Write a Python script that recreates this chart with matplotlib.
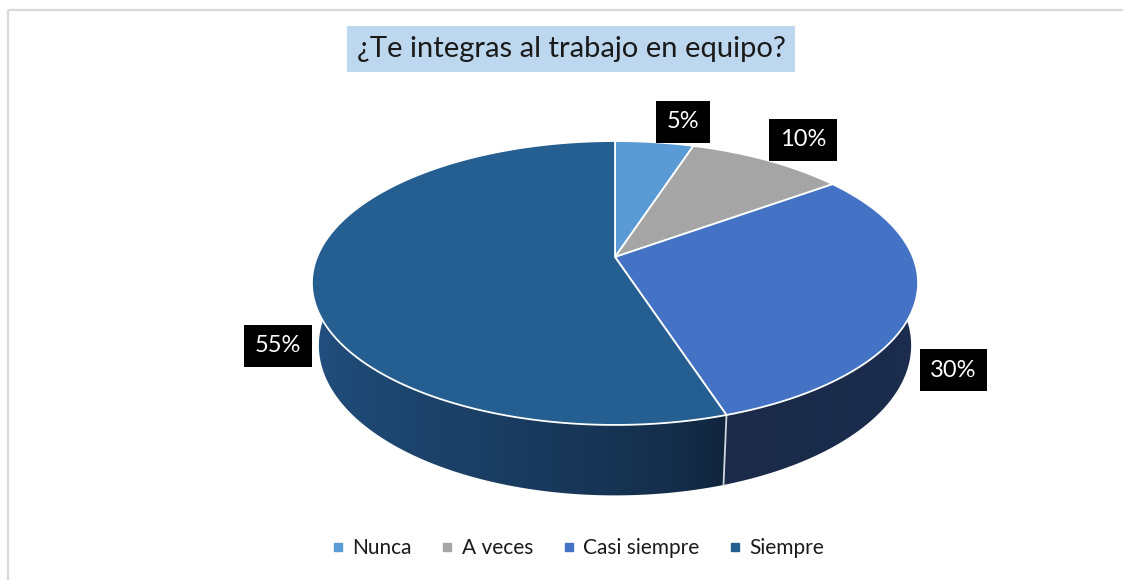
"""3D-style pie chart: ¿Te integras al trabajo en equipo?"""

import matplotlib.pyplot as plt
import numpy as np
from matplotlib.colors import to_rgb
from matplotlib.lines import Line2D
from matplotlib.patches import Polygon

plt.rcParams["font.family"] = ["Lato", "DejaVu Sans"]

# data
title = "¿Te integras al trabajo en equipo?"
categories = ["Nunca", "A veces", "Casi siempre", "Siempre"]
percentages = [5, 10, 30, 55]
value_labels = ["5%", "10%", "30%", "55%"]

# styles
top_colors = ["#5B9BD5", "#A5A5A5", "#4472C4", "#255E91"]
# (color where the visible wall starts, color where it ends), walking clockwise
side_colors = [
    ("#2f5f8e", "#2f5f8e"),
    ("#5a5a5a", "#5a5a5a"),
    ("#1e2f56", "#1a2a48"),
    ("#0f2238", "#245588"),
]

# fake camera for the tilted disk (pixel space)
CX, CY = 615, 257
FOCAL = 1445.0
CAM_DIST = 4.85
ELEV = np.arcsin(0.4605)
WALL = 0.238


def project(theta, height=0.0):
    """Project a rim point (angle clockwise from the back) to pixel coords."""
    x3 = np.sin(theta)
    z3 = np.cos(theta)
    depth = CAM_DIST + z3 * np.cos(ELEV) - height * np.sin(ELEV)
    up = height * np.cos(ELEV) + z3 * np.sin(ELEV)
    return CX + FOCAL * x3 / depth, CY - FOCAL * up / depth


def mix(c0, c1, u):
    a, b = np.array(to_rgb(c0)), np.array(to_rgb(c1))
    return a + (b - a) * u[..., None]


fig = plt.figure(figsize=(11.23, 5.80), dpi=100)
ax = fig.add_axes([0, 0, 1, 1])
ax.set_xlim(0, 1123)
ax.set_ylim(580, 0)
ax.axis("off")

# chart border (top and left only visible)
ax.plot([8, 1123], [10, 10], color="#d9d9d9", lw=1.6, solid_capstyle="butt")
ax.plot([8, 8], [10, 580], color="#d9d9d9", lw=1.6, solid_capstyle="butt")

fractions = np.array(percentages) / np.sum(percentages)
edges = np.concatenate([[0], np.cumsum(fractions)]) * 2 * np.pi

# map screen column -> angle on the front of the rim, for the wall shading
front = np.linspace(1.5 * np.pi, 0.5 * np.pi, 721)
front_x, _ = project(front, -WALL / 2)
cols = np.arange(280, 960) + 0.5
col_theta = np.interp(cols, front_x, front)

# side walls: one gradient image per slice, clipped to the wall band
for i in range(len(categories)):
    a, b = edges[i], edges[i + 1]
    ts = np.linspace(a, b, 300)
    tx, ty = project(ts)
    bx, by = project(ts[::-1], -WALL)
    pts = np.column_stack([np.concatenate([tx, bx]), np.concatenate([ty, by])])
    band = Polygon(pts, closed=True, facecolor="none", edgecolor="none")
    ax.add_patch(band)

    vis_a = min(max(a, np.pi / 2), 1.5 * np.pi)
    vis_b = min(max(b, np.pi / 2), 1.5 * np.pi)
    if vis_b > vis_a:
        u = np.clip((col_theta - vis_a) / (vis_b - vis_a), 0, 1) ** 0.6
    else:
        u = np.zeros_like(col_theta)
    img = mix(side_colors[i][0], side_colors[i][1], u)[None, :, :]
    im = ax.imshow(img, extent=(cols[0] - 0.5, cols[-1] + 0.5, 520, 100),
                   aspect="auto", interpolation="bilinear", zorder=1)
    im.set_clip_path(band)

# light seams where slices meet on the front wall
for t in edges:
    if np.pi / 2 < t < 1.5 * np.pi:
        x0, y0 = project(t)
        x1, y1 = project(t, -WALL)
        ax.plot([x0, x1], [y0, y1], color="#d0d6de", lw=1.3, zorder=2)

# top faces
for i in range(len(categories)):
    ts = np.linspace(edges[i], edges[i + 1], 200)
    rx, ry = project(ts)
    pts = np.column_stack([np.concatenate([[CX], rx]), np.concatenate([[CY], ry])])
    ax.add_patch(Polygon(pts, closed=True, facecolor=top_colors[i],
                         edgecolor="white", lw=1.3, joinstyle="round", zorder=3))

# data labels: black boxes just outside each slice
for i, lab in enumerate(value_labels):
    mid = 0.5 * (edges[i] + edges[i + 1])
    right = np.sin(mid) > 0
    if np.cos(mid) > 0:
        px, py = project(mid)
        px += 12 if right else -12
        py -= 10
        va = "bottom"
    else:
        px, py = project(mid, -WALL)
        px += 22 if right else -18
        py += 4
        va = "center"
    ax.text(px, py, lab, ha="left" if right else "right", va=va, fontsize=17,
            color="white", zorder=4,
            bbox=dict(boxstyle="square,pad=0.45", facecolor="black", edgecolor="none"))

ax.text(571, 49, title, ha="center", va="center", fontsize=21, color="#1a1a1a",
        bbox=dict(boxstyle="square,pad=0.33", facecolor="#BDD7EE", edgecolor="none"))

handles = [Line2D([], [], marker="s", linestyle="none", markersize=6, color=c)
           for c in top_colors]
ax.legend(handles, categories, loc="center", bbox_to_anchor=(577 / 1123, 1 - 548 / 580),
          ncol=4, frameon=False, fontsize=15, handletextpad=0.3, columnspacing=1.3,
          handlelength=0.8, labelcolor="#1a1a1a")

fig.savefig("out.png", dpi=100)
plt.close(fig)
